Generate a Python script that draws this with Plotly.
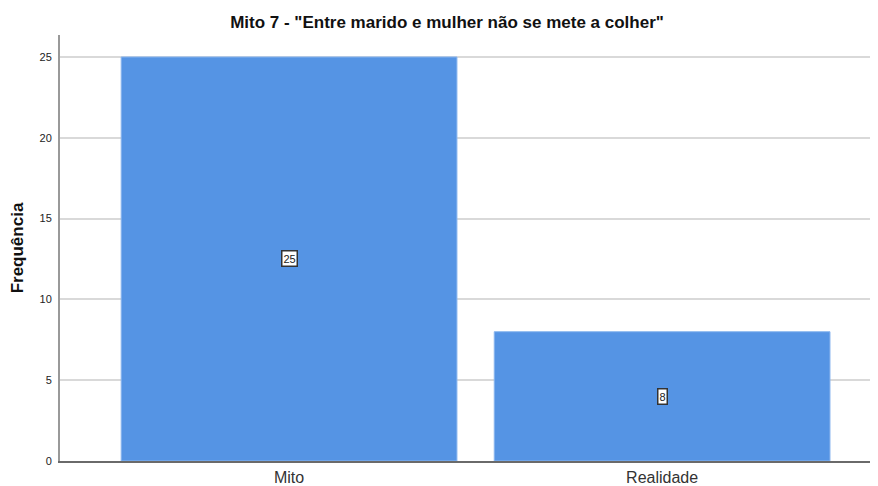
import plotly.graph_objects as go

categories = ["Mito", "Realidade"]
values = [25, 8]
y_ticks = [0, 5, 10, 15, 20, 25]

title = 'Mito 7 - "Entre marido e mulher não se mete a colher"'
y_title = "Frequência"

font = "Arial, Liberation Sans, sans-serif"
x_pos = list(range(len(categories)))

fig = go.Figure()
fig.add_trace(go.Bar(
    x=x_pos, y=values, width=0.9,
    marker=dict(color="#5594E4", line=dict(color="#8AB6EE", width=1)),
    hoverinfo="skip",
))

for xi, v in zip(x_pos, values):
    fig.add_annotation(
        x=xi, y=v / 2, text=str(v), showarrow=False,
        font=dict(family=font, size=11, color="#222"),
        bgcolor="white", bordercolor="#333", borderwidth=1.5, borderpad=1,
    )

# page body has an 8px default margin; compensate so the plot lands where the reference has it
fig.update_layout(
    width=878, height=486,
    margin=dict(l=52, r=9, t=27, b=33, autoexpand=False),
    paper_bgcolor="white", plot_bgcolor="white",
    showlegend=False,
    title=dict(text="<b>" + title + "</b>", x=0.5, xanchor="center", y=0.971, yanchor="middle",
               font=dict(family=font, size=17, color="#111")),
    font=dict(family=font),
)
fig.update_xaxes(
    tickmode="array", tickvals=x_pos, ticktext=categories,
    range=[-0.614, 1.576],
    showgrid=False, zeroline=False,
    showline=True, linecolor="#6a6a6a", linewidth=2,
    ticks="outside", ticklen=1, tickcolor="rgba(0,0,0,0)",
    tickfont=dict(family=font, size=16, color="#333"),
    automargin=False,
)
fig.update_yaxes(
    range=[0, 26.36], tickvals=y_ticks,
    showgrid=True, gridcolor="#d9d9d9", gridwidth=1.5,
    zeroline=False,
    showline=True, linecolor="#999", linewidth=2,
    ticks="outside", ticklen=4, tickcolor="rgba(0,0,0,0)",
    tickfont=dict(family=font, size=11, color="#222"),
    automargin=False,
    title=dict(text="<b>" + y_title + "</b>", standoff=12,
               font=dict(family=font, size=17, color="#111")),
)

fig.write_html("out.html")
